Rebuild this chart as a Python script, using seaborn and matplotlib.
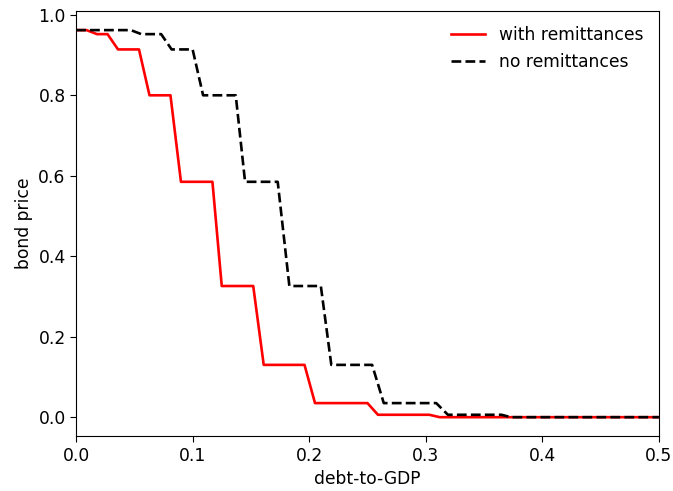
import matplotlib
matplotlib.use("Agg")
import matplotlib.pyplot as plt
import seaborn as sns
import pandas as pd

# debt-to-GDP grid points and bond prices
x_with = [0.0, 0.009, 0.018, 0.027, 0.036, 0.054, 0.063, 0.081, 0.090, 0.117, 0.125,
          0.152, 0.161, 0.196, 0.205, 0.250, 0.259, 0.303, 0.312, 0.5]
y_with = [0.962, 0.962, 0.952, 0.952, 0.914, 0.914, 0.800, 0.800, 0.585, 0.585, 0.326,
          0.326, 0.130, 0.130, 0.035, 0.035, 0.006, 0.006, 0.0, 0.0]

x_no = [0.0, 0.047, 0.056, 0.073, 0.082, 0.100, 0.109, 0.137, 0.145, 0.173, 0.183,
        0.210, 0.219, 0.254, 0.264, 0.309, 0.319, 0.365, 0.373, 0.5]
y_no = [0.962, 0.962, 0.952, 0.952, 0.914, 0.914, 0.800, 0.800, 0.585, 0.585, 0.326,
        0.326, 0.130, 0.130, 0.035, 0.035, 0.006, 0.006, 0.0, 0.0]

labels = ["with remittances", "no remittances"]

df_with = pd.DataFrame({"x": x_with, "y": y_with})
df_no = pd.DataFrame({"x": x_no, "y": y_no})

plt.rcParams["font.family"] = ["DejaVu Sans"]
fs = 12.3
plt.rcParams["font.size"] = fs

fig = plt.figure(figsize=(6.73, 4.91), dpi=100)
ax = fig.add_axes([0.113, 0.111, 0.866, 0.867])

sns.lineplot(data=df_with, x="x", y="y", ax=ax, color="red", lw=1.9,
             label=labels[0], estimator=None, sort=False)
sns.lineplot(data=df_no, x="x", y="y", ax=ax, color="black", lw=1.9,
             linestyle="--", label=labels[1], estimator=None, sort=False)

ax.set_xlim(0, 0.5)
ax.set_ylim(-0.048, 1.01)
ax.set_xticks([0.0, 0.1, 0.2, 0.3, 0.4, 0.5])
ax.set_yticks([0.0, 0.2, 0.4, 0.6, 0.8, 1.0])
ax.set_xlabel("debt-to-GDP", fontsize=fs)
ax.set_ylabel("bond price", fontsize=fs)
ax.tick_params(labelsize=fs, length=4)
ax.legend(loc="upper right", frameon=False, fontsize=fs)

fig.savefig("out.png", dpi=100)
